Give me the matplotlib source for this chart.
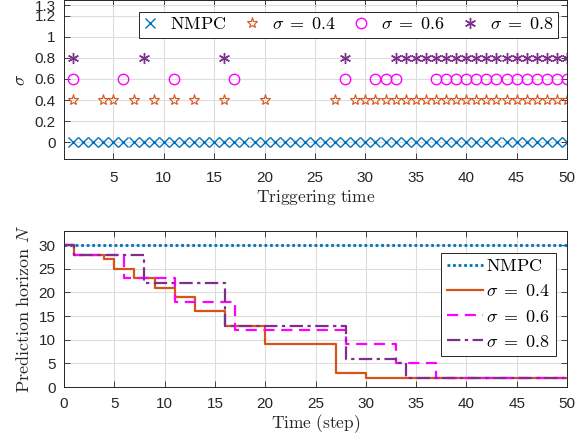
import matplotlib
matplotlib.use('Agg')
import matplotlib.pyplot as plt

plt.rcParams['mathtext.fontset'] = 'cm'
plt.rcParams['font.family'] = ['Liberation Sans', 'DejaVu Sans']

# triggering instants (top panel)
nmpc_trig = list(range(1, 51))
s04_trig = [1, 4, 5, 7, 9, 11, 13, 16, 20, 27] + list(range(29, 51))
s06_trig = [1, 6, 11, 17, 28, 31, 32, 33] + list(range(37, 51))
s08_trig = [1, 8, 16, 28] + list(range(33, 51))

# prediction horizon change points (bottom panel)
nmpc_t = [0, 50]
nmpc_N = [30, 30]
s04_t = [0, 1, 4, 5, 7, 9, 11, 13, 16, 20, 27, 30, 50]
s04_N = [30, 28, 27, 25, 23, 21, 19, 16, 13, 9, 3, 2, 2]
s06_t = [0, 1, 6, 11, 17, 28, 33, 37, 50]
s06_N = [30, 28, 23, 18, 12, 9, 5, 2, 2]
s08_t = [0, 1, 8, 16, 28, 33, 34, 50]
s08_N = [30, 28, 22, 13, 6, 5, 2, 2]

labels = ['$\\mathrm{NMPC}$', r'$\sigma\;=\;0.4$', r'$\sigma\;=\;0.6$', r'$\sigma\;=\;0.8$']

c_blue = '#0072BD'
c_orange = '#D95319'
c_mag = '#FF00FF'
c_purp = '#7E2F8E'
axcol = '#262626'

fig = plt.figure(figsize=(5.8, 4.4), dpi=100)
ax1 = fig.add_axes([64/580, 1 - 159/440, 503/580, 159/440])
ax2 = fig.add_axes([64/580, 1 - 387/440, 503/580, 156/440])

def style(ax, xpad):
    ax.grid(True, color='#dddddd', linewidth=0.8)
    ax.set_axisbelow(True)
    ax.tick_params(direction='in', top=True, right=True, labelsize=11,
                   colors=axcol, length=4, width=0.6)
    ax.tick_params(axis='x', pad=xpad)
    ax.tick_params(axis='y', pad=6)
    for s in ax.spines.values():
        s.set_color(axcol)
        s.set_linewidth(0.7)

# top panel
ax1.plot(nmpc_trig, [0]*len(nmpc_trig), 'x', color=c_blue, ms=6.5, mew=1.0,
         linestyle='none', label=labels[0])
ax1.plot(s04_trig, [0.4]*len(s04_trig), '*', color=c_orange, ms=8, mew=0.8,
         mfc='none', linestyle='none', label=labels[1])
ax1.plot(s06_trig, [0.6]*len(s06_trig), 'o', color=c_mag, ms=7.5, mew=1.0,
         mfc='none', linestyle='none', label=labels[2])
ax1.plot(s08_trig, [0.8]*len(s08_trig), marker=(6, 2, 0), color=c_purp, ms=8,
         mew=1.0, linestyle='none', label=labels[3])
ax1.set_xlim(0.1, 50)
ax1.set_ylim(-0.16, 1.35)
ax1.set_xticks(range(5, 51, 5))
ax1.set_yticks([0, 0.2, 0.4, 0.6, 0.8, 1, 1.2, 1.3])
ax1.set_yticklabels(['0', '0.2', '0.4', '0.6', '0.8', '1', '1.2', '1.3'])
style(ax1, 9)
ax1.set_xlabel(r'$\mathrm{Triggering\ time}$', fontsize=12.5, color=axcol, labelpad=2)
ax1.set_ylabel(r'$\sigma$', fontsize=13, color=axcol, labelpad=4)
leg1 = ax1.legend(loc='upper right', ncol=4, fontsize=13, frameon=True,
                  fancybox=False, edgecolor=axcol, framealpha=1,
                  handlelength=0.8, handletextpad=0.7, columnspacing=1.0,
                  borderpad=0.25, borderaxespad=0, bbox_to_anchor=(0.982, 0.925))
leg1.get_frame().set_linewidth(0.7)

# bottom panel
ax2.step(nmpc_t, nmpc_N, where='post', color=c_blue, lw=2, linestyle=(0, (1, 1)),
         label=labels[0])
ax2.step(s04_t, s04_N, where='post', color=c_orange, lw=1.6, label=labels[1])
ax2.step(s06_t, s06_N, where='post', color=c_mag, lw=1.6, linestyle=(0, (5, 3)),
         label=labels[2])
ax2.step(s08_t, s08_N, where='post', color=c_purp, lw=1.6,
         linestyle=(0, (6, 2, 1.5, 2)), label=labels[3])
ax2.set_xlim(0, 50)
ax2.set_ylim(0, 33)
ax2.set_xticks(range(0, 51, 5))
ax2.set_yticks(range(0, 31, 5))
style(ax2, 7)
ax2.set_xlabel(r'$\mathrm{Time\ (step)}$', fontsize=12.5, color=axcol, labelpad=1)
ax2.set_ylabel(r'$\mathrm{Prediction\ horizon}\ N$', fontsize=13, color=axcol, labelpad=4)
leg2 = ax2.legend(loc='upper right', fontsize=13, frameon=True, fancybox=False,
                  edgecolor=axcol, framealpha=1, handlelength=2.0,
                  handletextpad=0.2, borderpad=0.3, labelspacing=0.45,
                  borderaxespad=0, bbox_to_anchor=(0.978, 0.86))
leg2.get_frame().set_linewidth(0.7)

fig.savefig('out.png', dpi=100)
